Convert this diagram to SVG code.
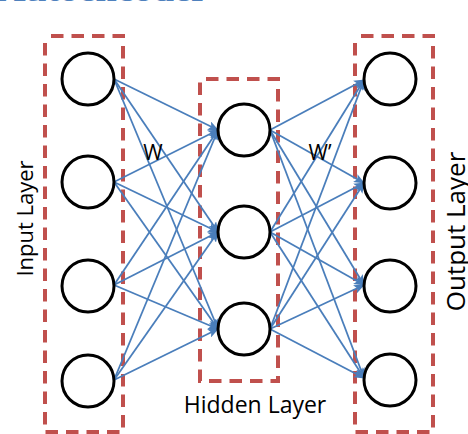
<svg xmlns="http://www.w3.org/2000/svg" width="468" height="434" viewBox="0 0 468 434">
<defs>
<style>
.box{fill:none;stroke:#C0504D;stroke-width:4;stroke-dasharray:12.5 8;stroke-dashoffset:-6}
.node{fill:#fff;stroke:#000;stroke-width:3}
.conn line{stroke:#4A7EBB;stroke-width:1.8;marker-end:url(#ah)}
.lbl{font-family:"Open Sans","Noto Sans",sans-serif;fill:#000}
</style>
<marker id="ah" markerUnits="userSpaceOnUse" markerWidth="11" markerHeight="9" refX="10" refY="4.5" orient="auto">
<path d="M0,0 L11,4.5 L0,9 L2.5,4.5 z" fill="#4A7EBB"/>
</marker>
</defs>
<rect width="468" height="434" fill="#fff"/>
<text x="-2" y="1" font-family="'Liberation Serif',serif" font-weight="bold" font-size="36" fill="#4F81BD" textLength="210" lengthAdjust="spacingAndGlyphs">Autoencoder</text>
<g id="input-layer-box"><rect class="box" x="45" y="36" width="78" height="396"/></g>
<g id="hidden-layer-box"><rect class="box" x="200" y="79" width="78" height="302"/></g>
<g id="output-layer-box"><rect class="box" x="355" y="36" width="78" height="396"/></g>
<g id="connectors" class="conn">
<line x1="114" y1="79" x2="218" y2="130"/>
<line x1="114" y1="79" x2="218" y2="232"/>
<line x1="114" y1="79" x2="218" y2="329"/>
<line x1="114" y1="182" x2="218" y2="130"/>
<line x1="114" y1="182" x2="218" y2="232"/>
<line x1="114" y1="182" x2="218" y2="329"/>
<line x1="114" y1="285" x2="218" y2="130"/>
<line x1="114" y1="285" x2="218" y2="232"/>
<line x1="114" y1="285" x2="218" y2="329"/>
<line x1="114" y1="380" x2="218" y2="130"/>
<line x1="114" y1="380" x2="218" y2="232"/>
<line x1="114" y1="380" x2="218" y2="329"/>
<line x1="270" y1="130" x2="364" y2="80"/>
<line x1="270" y1="130" x2="364" y2="183"/>
<line x1="270" y1="130" x2="364" y2="285"/>
<line x1="270" y1="130" x2="364" y2="378"/>
<line x1="270" y1="232" x2="364" y2="80"/>
<line x1="270" y1="232" x2="364" y2="183"/>
<line x1="270" y1="232" x2="364" y2="285"/>
<line x1="270" y1="232" x2="364" y2="378"/>
<line x1="270" y1="329" x2="364" y2="80"/>
<line x1="270" y1="329" x2="364" y2="183"/>
<line x1="270" y1="329" x2="364" y2="285"/>
<line x1="270" y1="329" x2="364" y2="378"/>
</g>
<g id="in1"><circle class="node" cx="88" cy="79" r="26"/></g>
<g id="in2"><circle class="node" cx="88" cy="182" r="26"/></g>
<g id="in3"><circle class="node" cx="88" cy="286" r="26"/></g>
<g id="in4"><circle class="node" cx="88" cy="381" r="26"/></g>
<g id="h1"><circle class="node" cx="244" cy="130" r="26"/></g>
<g id="h2"><circle class="node" cx="244" cy="232" r="26"/></g>
<g id="h3"><circle class="node" cx="244" cy="329" r="26"/></g>
<g id="out1"><circle class="node" cx="390" cy="79" r="26"/></g>
<g id="out2"><circle class="node" cx="390" cy="183" r="26"/></g>
<g id="out3"><circle class="node" cx="390" cy="286" r="26"/></g>
<g id="out4"><circle class="node" cx="390" cy="380" r="26"/></g>
<g id="labels">
<text class="lbl" font-size="21" x="153" y="160" text-anchor="middle">W</text>
<text class="lbl" font-size="21" x="320" y="160" text-anchor="middle">W’</text>
<text class="lbl" font-size="22" text-anchor="middle" transform="translate(33,218.5) rotate(-90)">Input Layer</text>
<text class="lbl" font-size="26" text-anchor="middle" transform="translate(465,231.5) rotate(-90)">Output Layer</text>
<text class="lbl" font-size="23" x="255" y="413" text-anchor="middle">Hidden Layer</text>
</g>
</svg>
